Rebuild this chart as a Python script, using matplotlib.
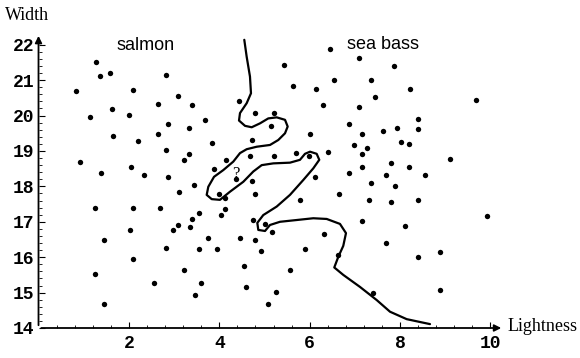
import matplotlib
matplotlib.use("Agg")
import matplotlib.pyplot as plt
import numpy as np

# fish samples (lightness, width)
lightness = [1.27, 1.35, 1.59, 0.82, 2.08, 2.82, 3.08, 2.65, 3.40, 1.63,
             2.00, 1.14, 3.68, 2.87, 3.32, 4.43, 5.43, 4.80, 5.22, 5.14,
             1.64, 2.65, 2.20, 3.84, 2.82, 4.72, 0.92, 3.32, 3.23, 4.15,
             4.67, 5.22, 2.04, 1.38, 2.33, 2.87, 3.89, 3.45, 3.11, 1.26,
             2.08, 2.69, 3.56, 3.40, 3.09, 2.97, 3.36, 2.03, 1.46, 3.76,
             4.46, 4.80, 2.81, 3.56, 3.96, 4.92, 2.08, 1.26, 3.23, 2.56,
             3.60, 4.54, 4.59, 3.47, 1.46, 5.08, 5.25, 5.56, 4.04, 4.13,
             4.13, 3.99, 4.72, 4.80, 4.75, 5.01, 5.17, 5.70, 5.99, 6.40,
             7.15, 4.38, 6.12, 6.88, 7.15, 7.36, 7.31, 6.65, 5.79, 7.15,
             6.32, 5.90, 6.62, 7.39, 7.68, 8.55, 7.89, 7.81, 8.39, 9.92,
             8.10, 7.68, 8.88, 8.39, 8.88, 6.46, 7.08, 7.86, 6.53, 7.36,
             5.63, 6.15, 8.23, 7.44, 6.29, 7.08, 9.68, 8.40, 8.40, 6.86,
             7.93, 7.62, 7.15, 6.00, 8.02, 8.19, 6.99, 7.27, 9.10, 7.81,
             8.19]
width = [21.50, 21.13, 21.20, 20.70, 20.72, 21.15, 20.56, 20.34, 20.29, 20.18,
         20.02, 19.97, 19.88, 19.75, 19.66, 20.40, 21.42, 20.08, 20.08, 19.71,
         19.42, 19.49, 19.27, 19.23, 19.02, 19.30, 18.69, 18.91, 18.74, 18.75,
         18.86, 18.86, 18.54, 18.37, 18.32, 18.27, 18.48, 18.04, 17.83, 17.39,
         17.39, 17.39, 17.24, 17.09, 16.92, 16.76, 16.86, 16.76, 16.49, 16.54,
         16.54, 16.49, 16.27, 16.22, 16.23, 16.18, 15.95, 15.52, 15.64, 15.26,
         15.26, 15.75, 15.16, 14.93, 14.67, 14.67, 15.01, 15.64, 17.18, 17.35,
         17.67, 17.79, 18.15, 17.79, 17.04, 16.93, 16.71, 18.95, 18.86, 18.97,
         18.92, 18.20, 18.27, 18.37, 18.54, 18.10, 17.62, 17.78, 17.62, 17.03,
         16.66, 16.22, 16.05, 14.98, 18.32, 18.32, 18.01, 17.57, 17.62, 17.16,
         16.88, 16.40, 16.14, 16.00, 15.08, 21.89, 21.63, 21.41, 21.00, 21.00,
         20.84, 20.74, 20.74, 20.52, 20.29, 20.25, 20.43, 19.90, 19.61, 19.77,
         19.66, 19.56, 19.49, 19.49, 19.24, 19.19, 19.17, 19.08, 18.77, 18.65,
         18.56]

# the overfitted decision boundary
bound_x = [4.553, 4.606, 4.679, 4.701, 4.606, 4.458, 4.436, 4.569, 4.717, 4.900,
           5.084, 5.270, 5.454, 5.513, 5.454, 5.305, 5.122, 4.827, 4.606, 4.458,
           4.310, 4.088, 3.883, 3.757, 3.721, 3.832, 4.015, 4.237, 4.531, 4.752,
           4.938, 5.195, 5.564, 5.785, 5.896, 6.007, 6.155, 6.212, 6.080, 5.858,
           5.564, 5.270, 4.973, 4.841, 4.863, 5.011, 5.122, 5.343, 5.712, 6.080,
           6.376, 6.670, 6.803, 6.743, 6.633, 6.544, 6.743, 7.113, 7.482, 7.777,
           8.146, 8.513, 8.662]
bound_y = [22.14, 21.66, 21.10, 20.63, 20.35, 20.07, 19.86, 19.71, 19.67, 19.78,
           19.92, 19.95, 19.88, 19.69, 19.50, 19.31, 19.17, 19.12, 19.05, 18.94,
           18.70, 18.46, 18.27, 17.99, 17.76, 17.64, 17.62, 17.85, 18.13, 18.42,
           18.60, 18.65, 18.67, 18.75, 18.92, 18.98, 18.92, 18.75, 18.51, 18.18,
           17.76, 17.43, 17.19, 16.97, 16.77, 16.74, 16.91, 17.00, 17.05, 17.10,
           17.08, 16.94, 16.68, 16.32, 16.01, 15.71, 15.50, 15.16, 14.79, 14.46,
           14.25, 14.15, 14.11]

x_ticks = [2, 4, 6, 8, 10]
y_ticks = [14, 15, 16, 17, 18, 19, 20, 21, 22]

fig = plt.figure(figsize=(5.8, 3.58), dpi=100)
ax = fig.add_axes([0.0664, 0.0838, 0.826, 0.8307])
ax.set_xlim(0, 10.6)
ax.set_ylim(14, 22.4)

ax.scatter(lightness, width, s=15, c="black", zorder=3, linewidths=0)
ax.plot(bound_x, bound_y, color="black", lw=1.6, solid_capstyle="round")
# the unsure point
ax.text(4.36, 18.36, "?", family="Liberation Serif", fontsize=12,
        ha="center", va="center")

# mathematica style axes with arrow heads
for s in ax.spines.values():
    s.set_visible(False)
ax.annotate("", xy=(10.3, 14), xytext=(0, 14),
            arrowprops=dict(arrowstyle="-|>", color="black", lw=1.3, mutation_scale=10),
            annotation_clip=False)
ax.annotate("", xy=(0, 22.33), xytext=(0, 14),
            arrowprops=dict(arrowstyle="-|>", color="black", lw=1.3, mutation_scale=10),
            annotation_clip=False)

ax.set_xticks(x_ticks)
ax.set_yticks(y_ticks)
ax.set_xticks(np.arange(0.4, 10.3, 0.4), minor=True)
ax.set_yticks(np.arange(14.2, 22.1, 0.2), minor=True)
ax.tick_params(which="major", direction="in", length=4, width=0.8)
ax.tick_params(which="minor", direction="in", length=2, width=0.6)
ax.tick_params(axis="x", which="major", pad=5)
ax.tick_params(axis="y", which="major", pad=3)
for lab in ax.get_xticklabels() + ax.get_yticklabels():
    lab.set_fontfamily("Liberation Mono")
    lab.set_fontweight("bold")
    lab.set_fontsize(13)

ax.text(-0.74, 22.84, "Width", family="Liberation Serif", fontsize=13,
        ha="left", va="center", clip_on=False)
ax.text(10.38, 14.05, "Lightness", family="Liberation Serif", fontsize=13,
        ha="left", va="center", clip_on=False)
ax.text(2.36, 21.99, "salmon", family="Liberation Sans", fontsize=13,
        ha="center", va="center")
ax.text(7.62, 22.02, "sea bass", family="Liberation Sans", fontsize=13,
        ha="center", va="center")

fig.savefig("out.png", dpi=100)
